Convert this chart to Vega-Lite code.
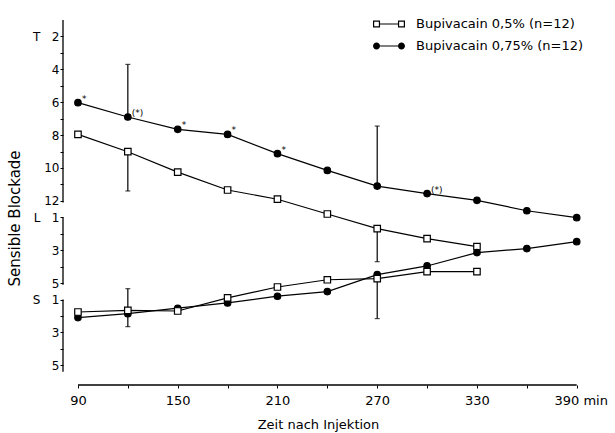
{
  "$schema": "https://vega.github.io/schema/vega-lite/v6.json",
  "width": 532,
  "height": 365,
  "autosize": {"type": "none"},
  "padding": {"left": 63, "top": 20, "right": 20, "bottom": 48},
  "background": "white",
  "config": {
    "view": {"stroke": null},
    "font": "DejaVu Sans",
    "axis": {"grid": false, "labelColor": "black", "titleColor": "black", "tickColor": "black", "domainColor": "black", "labelFont": "DejaVu Sans", "titleFont": "DejaVu Sans"}
  },
  "datasets": {
    "kurven": [
      {"t": 90, "lvl": 6.03, "serie": "Bupivacain 0,75% (n=12)", "teil": "oben"},
      {"t": 120, "lvl": 6.9, "serie": "Bupivacain 0,75% (n=12)", "teil": "oben"},
      {"t": 150, "lvl": 7.65, "serie": "Bupivacain 0,75% (n=12)", "teil": "oben"},
      {"t": 180, "lvl": 7.96, "serie": "Bupivacain 0,75% (n=12)", "teil": "oben"},
      {"t": 210, "lvl": 9.13, "serie": "Bupivacain 0,75% (n=12)", "teil": "oben"},
      {"t": 240, "lvl": 10.15, "serie": "Bupivacain 0,75% (n=12)", "teil": "oben"},
      {"t": 270, "lvl": 11.1, "serie": "Bupivacain 0,75% (n=12)", "teil": "oben"},
      {"t": 300, "lvl": 11.56, "serie": "Bupivacain 0,75% (n=12)", "teil": "oben"},
      {"t": 330, "lvl": 11.97, "serie": "Bupivacain 0,75% (n=12)", "teil": "oben"},
      {"t": 360, "lvl": 12.6, "serie": "Bupivacain 0,75% (n=12)", "teil": "oben"},
      {"t": 390, "lvl": 13.02, "serie": "Bupivacain 0,75% (n=12)", "teil": "oben"},
      {"t": 90, "lvl": 7.96, "serie": "Bupivacain 0,5% (n=12)", "teil": "oben"},
      {"t": 120, "lvl": 9.01, "serie": "Bupivacain 0,5% (n=12)", "teil": "oben"},
      {"t": 150, "lvl": 10.25, "serie": "Bupivacain 0,5% (n=12)", "teil": "oben"},
      {"t": 180, "lvl": 11.34, "serie": "Bupivacain 0,5% (n=12)", "teil": "oben"},
      {"t": 210, "lvl": 11.9, "serie": "Bupivacain 0,5% (n=12)", "teil": "oben"},
      {"t": 240, "lvl": 12.8, "serie": "Bupivacain 0,5% (n=12)", "teil": "oben"},
      {"t": 270, "lvl": 13.69, "serie": "Bupivacain 0,5% (n=12)", "teil": "oben"},
      {"t": 300, "lvl": 14.3, "serie": "Bupivacain 0,5% (n=12)", "teil": "oben"},
      {"t": 330, "lvl": 14.78, "serie": "Bupivacain 0,5% (n=12)", "teil": "oben"},
      {"t": 90, "lvl": 19.1, "serie": "Bupivacain 0,75% (n=12)", "teil": "unten"},
      {"t": 120, "lvl": 18.86, "serie": "Bupivacain 0,75% (n=12)", "teil": "unten"},
      {"t": 150, "lvl": 18.53, "serie": "Bupivacain 0,75% (n=12)", "teil": "unten"},
      {"t": 180, "lvl": 18.21, "serie": "Bupivacain 0,75% (n=12)", "teil": "unten"},
      {"t": 210, "lvl": 17.8, "serie": "Bupivacain 0,75% (n=12)", "teil": "unten"},
      {"t": 240, "lvl": 17.52, "serie": "Bupivacain 0,75% (n=12)", "teil": "unten"},
      {"t": 270, "lvl": 16.49, "serie": "Bupivacain 0,75% (n=12)", "teil": "unten"},
      {"t": 300, "lvl": 15.96, "serie": "Bupivacain 0,75% (n=12)", "teil": "unten"},
      {"t": 330, "lvl": 15.15, "serie": "Bupivacain 0,75% (n=12)", "teil": "unten"},
      {"t": 360, "lvl": 14.9, "serie": "Bupivacain 0,75% (n=12)", "teil": "unten"},
      {"t": 390, "lvl": 14.48, "serie": "Bupivacain 0,75% (n=12)", "teil": "unten"},
      {"t": 90, "lvl": 18.76, "serie": "Bupivacain 0,5% (n=12)", "teil": "unten"},
      {"t": 120, "lvl": 18.66, "serie": "Bupivacain 0,5% (n=12)", "teil": "unten"},
      {"t": 150, "lvl": 18.7, "serie": "Bupivacain 0,5% (n=12)", "teil": "unten"},
      {"t": 180, "lvl": 17.9, "serie": "Bupivacain 0,5% (n=12)", "teil": "unten"},
      {"t": 210, "lvl": 17.24, "serie": "Bupivacain 0,5% (n=12)", "teil": "unten"},
      {"t": 240, "lvl": 16.8, "serie": "Bupivacain 0,5% (n=12)", "teil": "unten"},
      {"t": 270, "lvl": 16.73, "serie": "Bupivacain 0,5% (n=12)", "teil": "unten"},
      {"t": 300, "lvl": 16.3, "serie": "Bupivacain 0,5% (n=12)", "teil": "unten"},
      {"t": 330, "lvl": 16.3, "serie": "Bupivacain 0,5% (n=12)", "teil": "unten"}
    ],
    "fehler": [
      {"t": 120, "lvl": 3.7, "lvl2": 6.9},
      {"t": 120, "lvl": 11.4, "lvl2": 9.01},
      {"t": 270, "lvl": 7.45, "lvl2": 11.1},
      {"t": 270, "lvl": 15.7, "lvl2": 13.69},
      {"t": 120, "lvl": 17.34, "lvl2": 18.66},
      {"t": 120, "lvl": 19.65, "lvl2": 18.66},
      {"t": 270, "lvl": 19.16, "lvl2": 16.73}
    ],
    "sterne": [
      {"t": 90, "lvl": 6.03, "zeichen": "*"},
      {"t": 120, "lvl": 6.9, "zeichen": "(*)"},
      {"t": 150, "lvl": 7.65, "zeichen": "*"},
      {"t": 180, "lvl": 7.96, "zeichen": "*"},
      {"t": 210, "lvl": 9.13, "zeichen": "*"},
      {"t": 300, "lvl": 11.56, "zeichen": "(*)"}
    ],
    "achsenabschnitte": [
      {"lvl": 1, "lvl2": 12.1},
      {"lvl": 13, "lvl2": 17.1},
      {"lvl": 18, "lvl2": 22.4}
    ],
    "zeitachse": [
      {"t": 90, "t2": 390}
    ]
  },
  "layer": [
    {
      "data": {"name": "achsenabschnitte"},
      "mark": {"type": "rule", "color": "black", "strokeWidth": 1.3},
      "encoding": {
        "x": {"datum": 81, "type": "quantitative", "scale": {"domain": [81, 401], "nice": false, "zero": false},
          "axis": {"title": "Zeit nach Injektion", "values": [90, 120, 150, 180, 210, 240, 270, 300, 330, 360, 390], "labelExpr": "datum.value % 60 == 30 ? (datum.value == 390 ? '390 min' : datum.label) : ''", "labelOffset": {"condition": {"test": "datum.value == 390", "value": 4}, "value": 0}, "labelFlush": false, "domain": false, "tickSize": 3, "labelPadding": 6, "labelFontSize": 13, "titleFontSize": 13, "titleFontWeight": "normal", "titlePadding": 11, "titleX": 255}},
        "y": {"field": "lvl", "type": "quantitative", "scale": {"domain": [1, 23.2], "reverse": true, "nice": false, "zero": false},
          "axis": {"title": "Sensible Blockade", "values": [2, 3, 4, 5, 6, 7, 8, 9, 10, 11, 12, 13, 14, 15, 16, 17, 18, 19, 20, 21, 22], "labelExpr": "datum.value==2?'T\u00a0\u00a0\u00a02':datum.value==13?'L\u00a0\u00a0\u00a01':datum.value==18?'S\u00a0\u00a0\u00a01':(datum.value<=12&&datum.value%2==0)?datum.label:(datum.value==15||datum.value==20)?'3':(datum.value==17||datum.value==22)?'5':''", "domain": false, "tickSize": 3, "labelPadding": 1, "labelFontSize": 12, "titleFontSize": 15, "titleFontWeight": "normal", "titlePadding": 10, "titleY": 198}},
        "y2": {"field": "lvl2"}
      }
    },
    {
      "data": {"name": "zeitachse"},
      "mark": {"type": "rule", "color": "black", "strokeWidth": 1.3},
      "encoding": {
        "x": {"field": "t", "type": "quantitative", "scale": {"domain": [81, 401], "nice": false, "zero": false},
          "axis": {"title": "Zeit nach Injektion", "values": [90, 120, 150, 180, 210, 240, 270, 300, 330, 360, 390], "labelExpr": "datum.value % 60 == 30 ? (datum.value == 390 ? '390 min' : datum.label) : ''", "labelOffset": {"condition": {"test": "datum.value == 390", "value": 4}, "value": 0}, "labelFlush": false, "domain": false, "tickSize": 3, "labelPadding": 6, "labelFontSize": 13, "titleFontSize": 13, "titleFontWeight": "normal", "titlePadding": 11, "titleX": 255}},
        "x2": {"field": "t2"},
        "y": {"datum": 23.2, "type": "quantitative", "scale": {"domain": [1, 23.2], "reverse": true, "nice": false, "zero": false},
          "axis": {"title": "Sensible Blockade", "values": [2, 3, 4, 5, 6, 7, 8, 9, 10, 11, 12, 13, 14, 15, 16, 17, 18, 19, 20, 21, 22], "labelExpr": "datum.value==2?'T\u00a0\u00a0\u00a02':datum.value==13?'L\u00a0\u00a0\u00a01':datum.value==18?'S\u00a0\u00a0\u00a01':(datum.value<=12&&datum.value%2==0)?datum.label:(datum.value==15||datum.value==20)?'3':(datum.value==17||datum.value==22)?'5':''", "domain": false, "tickSize": 3, "labelPadding": 1, "labelFontSize": 12, "titleFontSize": 15, "titleFontWeight": "normal", "titlePadding": 10, "titleY": 198}}
      }
    },
    {
      "data": {"name": "kurven"},
      "mark": {"type": "line", "color": "black", "strokeWidth": 1.2},
      "encoding": {
        "x": {"field": "t", "type": "quantitative", "scale": {"domain": [81, 401], "nice": false, "zero": false},
          "axis": {"title": "Zeit nach Injektion", "values": [90, 120, 150, 180, 210, 240, 270, 300, 330, 360, 390], "labelExpr": "datum.value % 60 == 30 ? (datum.value == 390 ? '390 min' : datum.label) : ''", "labelOffset": {"condition": {"test": "datum.value == 390", "value": 4}, "value": 0}, "labelFlush": false, "domain": false, "tickSize": 3, "labelPadding": 6, "labelFontSize": 13, "titleFontSize": 13, "titleFontWeight": "normal", "titlePadding": 11, "titleX": 255}},
        "y": {"field": "lvl", "type": "quantitative", "scale": {"domain": [1, 23.2], "reverse": true, "nice": false, "zero": false},
          "axis": {"title": "Sensible Blockade", "values": [2, 3, 4, 5, 6, 7, 8, 9, 10, 11, 12, 13, 14, 15, 16, 17, 18, 19, 20, 21, 22], "labelExpr": "datum.value==2?'T\u00a0\u00a0\u00a02':datum.value==13?'L\u00a0\u00a0\u00a01':datum.value==18?'S\u00a0\u00a0\u00a01':(datum.value<=12&&datum.value%2==0)?datum.label:(datum.value==15||datum.value==20)?'3':(datum.value==17||datum.value==22)?'5':''", "domain": false, "tickSize": 3, "labelPadding": 1, "labelFontSize": 12, "titleFontSize": 15, "titleFontWeight": "normal", "titlePadding": 10, "titleY": 198}},
        "detail": [{"field": "serie"}, {"field": "teil"}]
      }
    },
    {
      "data": {"name": "fehler"},
      "mark": {"type": "rule", "color": "black", "strokeWidth": 1.2},
      "encoding": {
        "x": {"field": "t", "type": "quantitative", "scale": {"domain": [81, 401], "nice": false, "zero": false},
          "axis": {"title": "Zeit nach Injektion", "values": [90, 120, 150, 180, 210, 240, 270, 300, 330, 360, 390], "labelExpr": "datum.value % 60 == 30 ? (datum.value == 390 ? '390 min' : datum.label) : ''", "labelOffset": {"condition": {"test": "datum.value == 390", "value": 4}, "value": 0}, "labelFlush": false, "domain": false, "tickSize": 3, "labelPadding": 6, "labelFontSize": 13, "titleFontSize": 13, "titleFontWeight": "normal", "titlePadding": 11, "titleX": 255}},
        "y": {"field": "lvl", "type": "quantitative", "scale": {"domain": [1, 23.2], "reverse": true, "nice": false, "zero": false},
          "axis": {"title": "Sensible Blockade", "values": [2, 3, 4, 5, 6, 7, 8, 9, 10, 11, 12, 13, 14, 15, 16, 17, 18, 19, 20, 21, 22], "labelExpr": "datum.value==2?'T\u00a0\u00a0\u00a02':datum.value==13?'L\u00a0\u00a0\u00a01':datum.value==18?'S\u00a0\u00a0\u00a01':(datum.value<=12&&datum.value%2==0)?datum.label:(datum.value==15||datum.value==20)?'3':(datum.value==17||datum.value==22)?'5':''", "domain": false, "tickSize": 3, "labelPadding": 1, "labelFontSize": 12, "titleFontSize": 15, "titleFontWeight": "normal", "titlePadding": 10, "titleY": 198}},
        "y2": {"field": "lvl2"}
      }
    },
    {
      "data": {"name": "fehler"},
      "mark": {"type": "tick", "orient": "horizontal", "color": "black", "size": 5, "thickness": 1.2},
      "encoding": {
        "x": {"field": "t", "type": "quantitative", "scale": {"domain": [81, 401], "nice": false, "zero": false},
          "axis": {"title": "Zeit nach Injektion", "values": [90, 120, 150, 180, 210, 240, 270, 300, 330, 360, 390], "labelExpr": "datum.value % 60 == 30 ? (datum.value == 390 ? '390 min' : datum.label) : ''", "labelOffset": {"condition": {"test": "datum.value == 390", "value": 4}, "value": 0}, "labelFlush": false, "domain": false, "tickSize": 3, "labelPadding": 6, "labelFontSize": 13, "titleFontSize": 13, "titleFontWeight": "normal", "titlePadding": 11, "titleX": 255}},
        "y": {"field": "lvl", "type": "quantitative", "scale": {"domain": [1, 23.2], "reverse": true, "nice": false, "zero": false},
          "axis": {"title": "Sensible Blockade", "values": [2, 3, 4, 5, 6, 7, 8, 9, 10, 11, 12, 13, 14, 15, 16, 17, 18, 19, 20, 21, 22], "labelExpr": "datum.value==2?'T\u00a0\u00a0\u00a02':datum.value==13?'L\u00a0\u00a0\u00a01':datum.value==18?'S\u00a0\u00a0\u00a01':(datum.value<=12&&datum.value%2==0)?datum.label:(datum.value==15||datum.value==20)?'3':(datum.value==17||datum.value==22)?'5':''", "domain": false, "tickSize": 3, "labelPadding": 1, "labelFontSize": 12, "titleFontSize": 15, "titleFontWeight": "normal", "titlePadding": 10, "titleY": 198}}
      }
    },
    {
      "data": {"name": "kurven"},
      "mark": {"type": "point", "filled": true, "fill": "black", "opacity": 0, "strokeWidth": 0, "size": 256},
      "encoding": {
        "x": {"field": "t", "type": "quantitative", "scale": {"domain": [81, 401], "nice": false, "zero": false},
          "axis": {"title": "Zeit nach Injektion", "values": [90, 120, 150, 180, 210, 240, 270, 300, 330, 360, 390], "labelExpr": "datum.value % 60 == 30 ? (datum.value == 390 ? '390 min' : datum.label) : ''", "labelOffset": {"condition": {"test": "datum.value == 390", "value": 4}, "value": 0}, "labelFlush": false, "domain": false, "tickSize": 3, "labelPadding": 6, "labelFontSize": 13, "titleFontSize": 13, "titleFontWeight": "normal", "titlePadding": 11, "titleX": 255}},
        "y": {"field": "lvl", "type": "quantitative", "scale": {"domain": [1, 23.2], "reverse": true, "nice": false, "zero": false},
          "axis": {"title": "Sensible Blockade", "values": [2, 3, 4, 5, 6, 7, 8, 9, 10, 11, 12, 13, 14, 15, 16, 17, 18, 19, 20, 21, 22], "labelExpr": "datum.value==2?'T\u00a0\u00a0\u00a02':datum.value==13?'L\u00a0\u00a0\u00a01':datum.value==18?'S\u00a0\u00a0\u00a01':(datum.value<=12&&datum.value%2==0)?datum.label:(datum.value==15||datum.value==20)?'3':(datum.value==17||datum.value==22)?'5':''", "domain": false, "tickSize": 3, "labelPadding": 1, "labelFontSize": 12, "titleFontSize": 15, "titleFontWeight": "normal", "titlePadding": 10, "titleY": 198}},
        "shape": {
          "field": "serie", "type": "nominal",
          "scale": {
            "domain": ["Bupivacain 0,5% (n=12)", "Bupivacain 0,75% (n=12)"],
            "range": [
              "M-2,-0.44H-1.12V0.44H-2Z M-1.85,-0.29V0.29H-1.27V-0.29Z M1.12,-0.44H2V0.44H1.12Z M1.27,-0.29V0.29H1.85V-0.29Z M-1.12,-0.075H1.12V0.075H-1.12Z",
              "M-2,0A0.44,0.44 0 1,0 -1.12,0A0.44,0.44 0 1,0 -2,0Z M1.12,0A0.44,0.44 0 1,0 2,0A0.44,0.44 0 1,0 1.12,0Z M-1.12,-0.075H1.12V0.075H-1.12Z"
            ]
          },
          "legend": {
            "title": null,
            "orient": "none",
            "legendX": 318,
            "legendY": -4,
            "padding": 0,
            "symbolSize": 256,
            "symbolOpacity": 1,
            "symbolFillColor": "black",
            "symbolStrokeWidth": 0,
            "labelFontSize": 13,
            "labelFont": "DejaVu Sans",
            "labelColor": "black",
            "labelOffset": 19,
            "labelLimit": 300,
            "rowPadding": 7
          }
        }
      }
    },
    {
      "data": {"name": "kurven"},
      "mark": {"type": "point", "filled": true, "stroke": "black", "strokeWidth": 1.2, "opacity": 1, "size": 42},
      "encoding": {
        "x": {"field": "t", "type": "quantitative", "scale": {"domain": [81, 401], "nice": false, "zero": false},
          "axis": {"title": "Zeit nach Injektion", "values": [90, 120, 150, 180, 210, 240, 270, 300, 330, 360, 390], "labelExpr": "datum.value % 60 == 30 ? (datum.value == 390 ? '390 min' : datum.label) : ''", "labelOffset": {"condition": {"test": "datum.value == 390", "value": 4}, "value": 0}, "labelFlush": false, "domain": false, "tickSize": 3, "labelPadding": 6, "labelFontSize": 13, "titleFontSize": 13, "titleFontWeight": "normal", "titlePadding": 11, "titleX": 255}},
        "y": {"field": "lvl", "type": "quantitative", "scale": {"domain": [1, 23.2], "reverse": true, "nice": false, "zero": false},
          "axis": {"title": "Sensible Blockade", "values": [2, 3, 4, 5, 6, 7, 8, 9, 10, 11, 12, 13, 14, 15, 16, 17, 18, 19, 20, 21, 22], "labelExpr": "datum.value==2?'T\u00a0\u00a0\u00a02':datum.value==13?'L\u00a0\u00a0\u00a01':datum.value==18?'S\u00a0\u00a0\u00a01':(datum.value<=12&&datum.value%2==0)?datum.label:(datum.value==15||datum.value==20)?'3':(datum.value==17||datum.value==22)?'5':''", "domain": false, "tickSize": 3, "labelPadding": 1, "labelFontSize": 12, "titleFontSize": 15, "titleFontWeight": "normal", "titlePadding": 10, "titleY": 198}},
        "shape": {"condition": {"test": "datum.serie === 'Bupivacain 0,5% (n=12)'", "value": "square"}, "value": "circle"},
        "fill": {"condition": {"test": "datum.serie === 'Bupivacain 0,5% (n=12)'", "value": "white"}, "value": "black"}
      }
    },
    {
      "data": {"name": "sterne"},
      "mark": {"type": "text", "align": "left", "baseline": "middle", "dx": 4, "dy": -4, "fontSize": 9, "fill": "black", "font": "DejaVu Sans"},
      "encoding": {
        "x": {"field": "t", "type": "quantitative", "scale": {"domain": [81, 401], "nice": false, "zero": false},
          "axis": {"title": "Zeit nach Injektion", "values": [90, 120, 150, 180, 210, 240, 270, 300, 330, 360, 390], "labelExpr": "datum.value % 60 == 30 ? (datum.value == 390 ? '390 min' : datum.label) : ''", "labelOffset": {"condition": {"test": "datum.value == 390", "value": 4}, "value": 0}, "labelFlush": false, "domain": false, "tickSize": 3, "labelPadding": 6, "labelFontSize": 13, "titleFontSize": 13, "titleFontWeight": "normal", "titlePadding": 11, "titleX": 255}},
        "y": {"field": "lvl", "type": "quantitative", "scale": {"domain": [1, 23.2], "reverse": true, "nice": false, "zero": false},
          "axis": {"title": "Sensible Blockade", "values": [2, 3, 4, 5, 6, 7, 8, 9, 10, 11, 12, 13, 14, 15, 16, 17, 18, 19, 20, 21, 22], "labelExpr": "datum.value==2?'T\u00a0\u00a0\u00a02':datum.value==13?'L\u00a0\u00a0\u00a01':datum.value==18?'S\u00a0\u00a0\u00a01':(datum.value<=12&&datum.value%2==0)?datum.label:(datum.value==15||datum.value==20)?'3':(datum.value==17||datum.value==22)?'5':''", "domain": false, "tickSize": 3, "labelPadding": 1, "labelFontSize": 12, "titleFontSize": 15, "titleFontWeight": "normal", "titlePadding": 10, "titleY": 198}},
        "text": {"field": "zeichen"}
      }
    }
  ]
}
